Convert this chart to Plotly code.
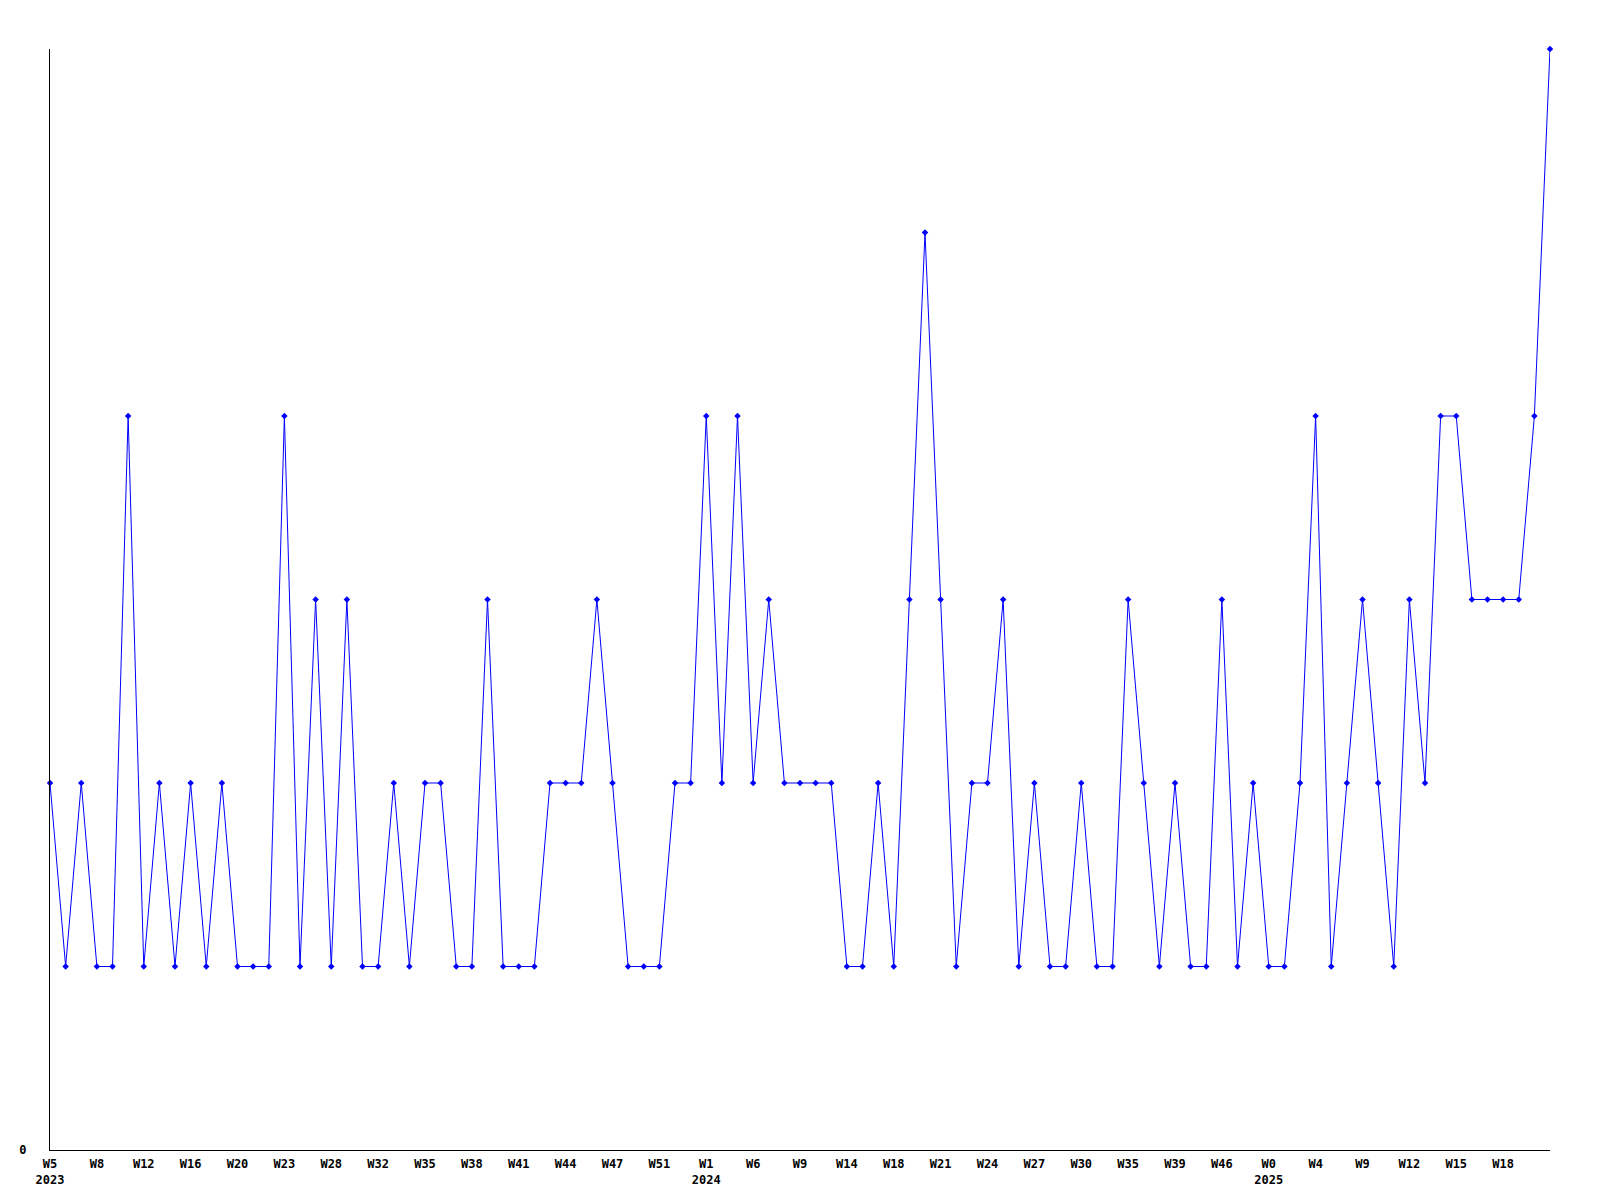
import plotly.graph_objects as go

values = [2, 1, 2, 1, 1, 4, 1, 2, 1, 2,
          1, 2, 1, 1, 1, 4, 1, 3, 1, 3,
          1, 1, 2, 1, 2, 2, 1, 1, 3, 1,
          1, 1, 2, 2, 2, 3, 2, 1, 1, 1,
          2, 2, 4, 2, 4, 2, 3, 2, 2, 2,
          2, 1, 1, 2, 1, 3, 5, 3, 1, 2,
          2, 3, 1, 2, 1, 1, 2, 1, 1, 3,
          2, 1, 2, 1, 1, 3, 1, 2, 1, 1,
          2, 4, 1, 2, 3, 2, 1, 3, 2, 4,
          4, 3, 3, 3, 3, 4, 6]

tick_labels = ["W5<br>2023", "W8", "W12", "W16", "W20", "W23", "W28", "W32",
               "W35", "W38", "W41", "W44", "W47", "W51", "W1<br>2024", "W6",
               "W9", "W14", "W18", "W21", "W24", "W27", "W30", "W35",
               "W39", "W46", "W0<br>2025", "W4", "W9", "W12", "W15", "W18"]

x_idx = list(range(len(values)))
tick_positions = x_idx[::3][:len(tick_labels)]

fig = go.Figure()
fig.add_trace(go.Scatter(
    x=x_idx, y=values, mode="lines+markers",
    line=dict(color="#0000ff", width=1),
    marker=dict(symbol="diamond", size=5, color="#0000ff"),
    cliponaxis=False, showlegend=False,
))

font = dict(family="DejaVu Sans Mono", size=12, color="black", weight="bold")

fig.update_layout(
    width=1600, height=1200,
    margin=dict(l=42, r=58, t=41, b=58, autoexpand=False),
    paper_bgcolor="white", plot_bgcolor="white",
    font=font,
    xaxis=dict(range=[0, len(values) - 1], tickmode="array",
               tickvals=tick_positions, ticktext=tick_labels,
               showgrid=False, zeroline=False, showline=True,
               linecolor="black", linewidth=1, ticks="",
               tickangle=0, tickfont=font, ticklabelstandoff=3,
               automargin=False),
    yaxis=dict(range=[0, 6], tickmode="array", tickvals=[0], ticktext=["0"],
               showgrid=False, zeroline=False, showline=True,
               linecolor="black", linewidth=1, ticks="",
               ticklabelstandoff=20, tickfont=font, automargin=False),
)

fig.write_html("out.html")
